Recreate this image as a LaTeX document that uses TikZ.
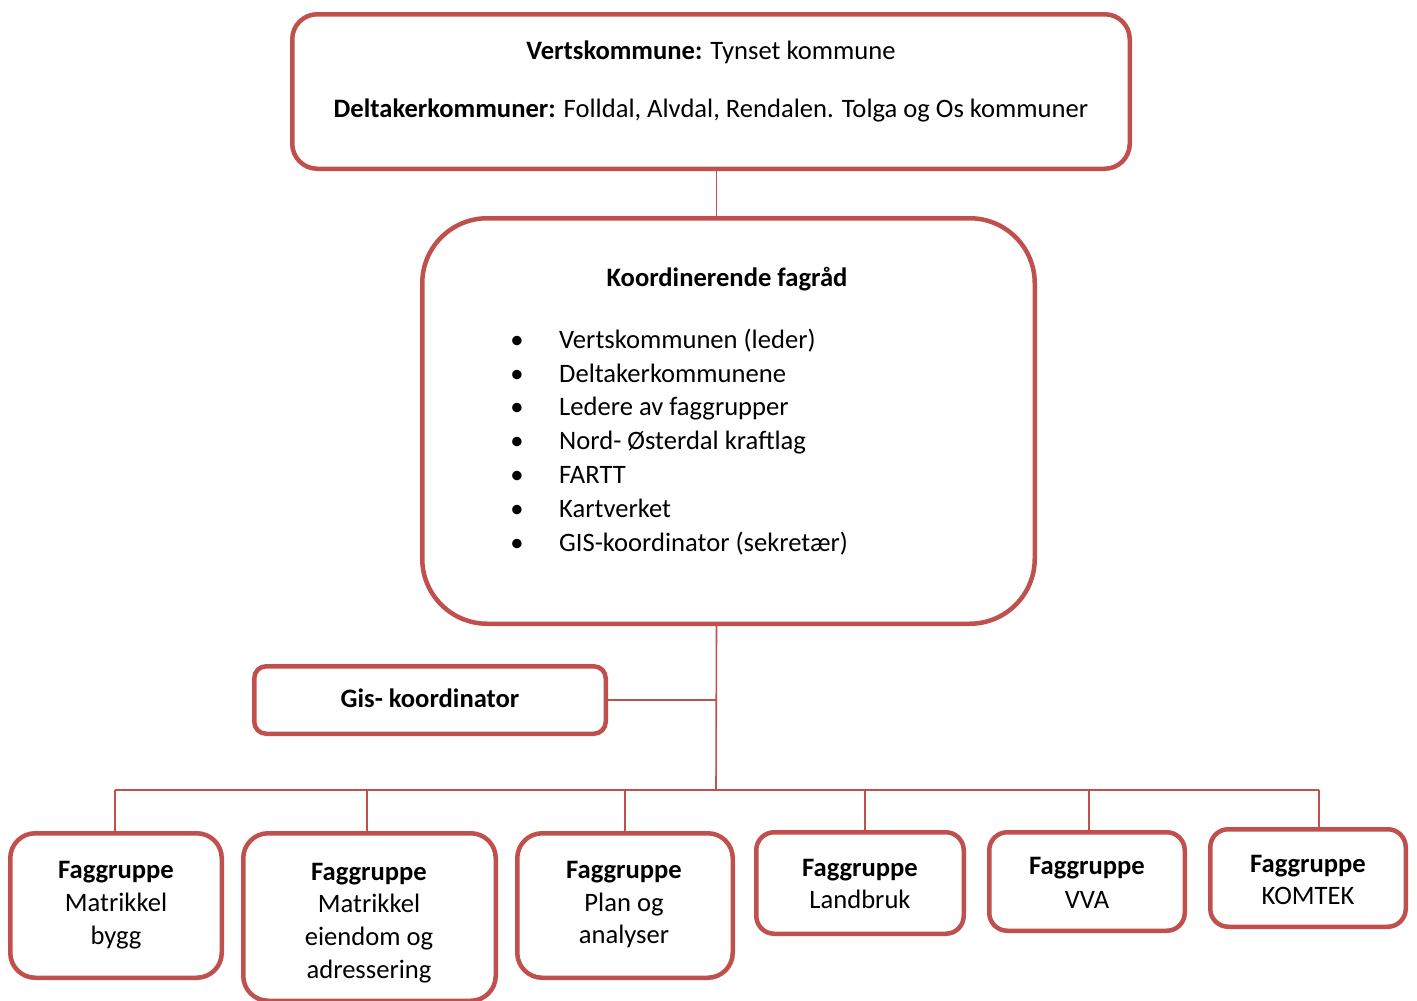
\documentclass[tikz,border=0pt]{standalone}
\usepackage{fontspec}
\setmainfont{Carlito}
\definecolor{boxred}{HTML}{C0504D}
\begin{document}
\begin{tikzpicture}[x=1pt,y=-1pt,
  box/.style={draw=boxred,line width=4.5pt,fill=white,inner sep=0pt,rectangle},
  link/.style={draw=boxred,line width=1.6pt},
  txt/.style={anchor=base,inner sep=0pt,yshift=-1.5pt,font=\fontsize{26.6}{30}\selectfont},
  ltxt/.style={anchor=base west,inner sep=0pt,yshift=-1.5pt,font=\fontsize{26.6}{30}\selectfont}]
\useasboundingbox (0,0) rectangle (1417,1001);
% boxes
\node[box,rounded corners=25pt,minimum width=837.5pt,minimum height=154.5pt] (top) at (711,91.5) {};
\node[box,rounded corners=65pt,minimum width=612.5pt,minimum height=405.5pt] (mid) at (728.5,421) {};
\node[box,rounded corners=12pt,minimum width=351.5pt,minimum height=67.5pt] (gis) at (430,700) {};
\node[box,rounded corners=25pt,minimum width=211.5pt,minimum height=144.5pt] (b1) at (116,905.5) {};
\node[box,rounded corners=25pt,minimum width=252.5pt,minimum height=167.5pt] (b2) at (369.5,917) {};
\node[box,rounded corners=25pt,minimum width=215.5pt,minimum height=144.5pt] (b3) at (625,905.5) {};
\node[box,rounded corners=18pt,minimum width=207.5pt,minimum height=101.5pt] (b4) at (860,883) {};
\node[box,rounded corners=18pt,minimum width=195.5pt,minimum height=98.5pt] (b5) at (1087,881.5) {};
\node[box,rounded corners=18pt,minimum width=195.5pt,minimum height=97.5pt] (b6) at (1308,878) {};
% connectors
\coordinate (spine) at (716.5,0);
\coordinate (bus) at (716,790);
\coordinate (d1) at (115,790);
\coordinate (d2) at (367,790);
\coordinate (d3) at (625,790);
\coordinate (d4) at (865,790);
\coordinate (d5) at (1089,790);
\coordinate (d6) at (1319,790);
\draw[link] (top.south -| spine) -- (mid.north -| spine);
\draw[link] (mid.south -| spine) -- (bus);
\draw[link] (gis.east) -- (gis.east -| spine);
\draw[link] (d1) -- (d6);
\draw[link] (d1) -- (d1 |- b1.north);
\draw[link] (d2) -- (d2 |- b2.north);
\draw[link] (d3) -- (d3 |- b3.north);
\draw[link] (d4) -- (d4 |- b4.north);
\draw[link] (d5) -- (d5 |- b5.north);
\draw[link] (d6) -- (d6 |- b6.north);
% top texts
\node[txt] (t1) at (711,58) {\textbf{Vertskommune:} Tynset kommune};
\node[txt] (t2) at (711,115.5) {\textbf{Deltakerkommuner:} Folldal, Alvdal, Rendalen. Tolga og Os kommuner};
% middle
\node[txt] (mt) at (727,285) {\textbf{Koordinerende fagråd}};
\foreach \y/\t [count=\i] in {346.7/Vertskommunen (leder),380.5/Deltakerkommunene,414.3/Ledere av faggrupper,448.1/Nord- Østerdal kraftlag,481.9/FARTT,515.7/Kartverket,549.5/GIS-koordinator (sekretær)}{
  \node[txt] (bul\i) at (517,\y) {•};
  \node[ltxt] (item\i) at (559,\y) {\t};
}
% gis
\node[txt] (gt) at (430,706) {\textbf{Gis- koordinator}};
% bottom
\node[txt] (b1a) at (116,876.7) {\textbf{Faggruppe}};
\node[txt] (b1b) at (116,910) {Matrikkel};
\node[txt] (b1c) at (116,943.3) {bygg};
\node[txt] (b2a) at (369,879) {\textbf{Faggruppe}};
\node[txt] (b2b) at (369,911) {Matrikkel};
\node[txt] (b2c) at (369,944) {eiendom og};
\node[txt] (b2d) at (369,977) {adressering};
\node[txt] (b3a) at (624,876.7) {\textbf{Faggruppe}};
\node[txt] (b3b) at (624,910) {Plan og};
\node[txt] (b3c) at (624,942) {analyser};
\node[txt] (b4a) at (860,875) {\textbf{Faggruppe}};
\node[txt] (b4b) at (860,906.7) {Landbruk};
\node[txt] (b5a) at (1087,873.3) {\textbf{Faggruppe}};
\node[txt] (b5b) at (1087,906.7) {VVA};
\node[txt] (b6a) at (1308,870.7) {\textbf{Faggruppe}};
\node[txt] (b6b) at (1308,903.3) {KOMTEK};
\end{tikzpicture}
\end{document}
